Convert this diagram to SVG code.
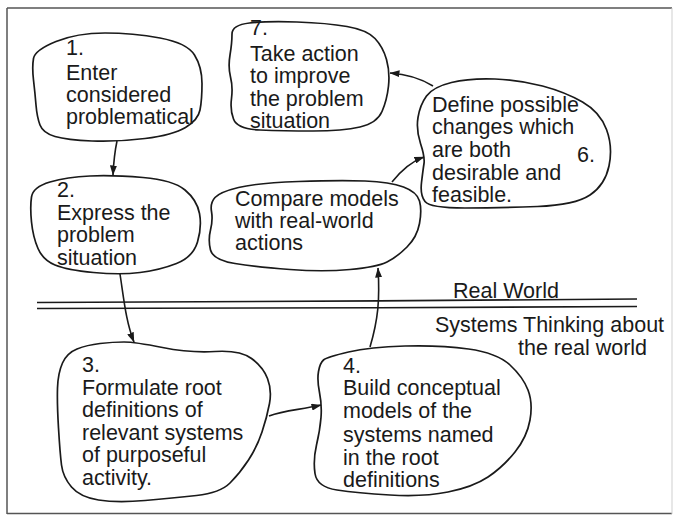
<svg xmlns="http://www.w3.org/2000/svg" width="674" height="516" viewBox="0 0 674 516">
<defs>
<style>
.blob{fill:none;stroke:#1a1a1a;stroke-width:1.7;stroke-linejoin:round}
.conn{fill:none;stroke:#1a1a1a;stroke-width:1.6}
.t{font-family:"Liberation Sans",Arial,Helvetica,sans-serif;font-size:21.5px;fill:#1a1a1a}
.frame{fill:none;stroke:#555;stroke-width:1.5}
</style>
<marker id="ah" markerWidth="10" markerHeight="7" refX="9.5" refY="3.5" orient="auto" markerUnits="userSpaceOnUse">
<path d="M0,0 L10,3.5 L0,7 Z" fill="#1a1a1a"/>
</marker>
</defs>
<rect width="674" height="516" fill="#fff"/>
<g id="frame">
<line class="frame" x1="7" y1="8" x2="672" y2="8"/>
<line class="frame" x1="7" y1="8" x2="7" y2="514"/>
<line class="frame" x1="7" y1="513.5" x2="672" y2="513.5"/>
<line x1="672" y1="8" x2="672" y2="514" stroke="#cfcfcf" stroke-width="1"/>
</g>
<g id="divider">
<path class="conn" d="M37,302.5 C200,301.5 450,301 637,299"/>
<path class="conn" d="M37,308.5 C200,308 450,308 637,306.5"/>
<text class="t" x="453" y="298">Real World</text>
<text class="t"><tspan x="435" y="332">Systems Thinking about</tspan><tspan x="518" y="355">the real world</tspan></text>
</g>
<g id="node1">
<path class="blob" d="M33.5,58.5 Q35,50 56,41.5 Q77,33 105,33 Q133,33 160,38 Q187,43 194.5,55 Q202,67 202,83.5 Q202,100 200,110 Q198,120 185.5,127.5 Q173,135 145,138.5 Q117,142 92,141 Q67,140 55,136.5 Q43,133 40,125 Q37,117 36,105 Q35,93 33.5,80 Q32,67 33.5,58.5 Z"/>
<text class="t"><tspan x="66" y="55">1.</tspan><tspan x="66" y="80">Enter</tspan><tspan x="66" y="102">considered</tspan><tspan x="66" y="124">problematical</tspan></text>
</g>
<g id="node2">
<path class="blob" d="M31.5,197 Q33,187 50,182 Q67,177 90,176 Q113,175 143,177.5 Q173,180 185,190 Q197,200 199.5,213.5 Q202,227 197.5,242 Q193,257 176.5,263.5 Q160,270 140,272.5 Q120,275 93.5,272.5 Q67,270 55,265 Q43,260 38,248.5 Q33,237 31.5,222 Q30,207 31.5,197 Z"/>
<text class="t"><tspan x="57" y="197">2.</tspan><tspan x="57" y="220">Express the</tspan><tspan x="57" y="242">problem</tspan><tspan x="57" y="265">situation</tspan></text>
</g>
<g id="node3">
<path class="blob" d="M124,342 Q135,342 162.5,347.5 Q190,353 215,351.5 Q240,350 251.5,358.5 Q263,367 267.5,378.5 Q272,390 269.5,403.5 Q267,417 262,432 Q257,447 248.5,460 Q240,473 230,483 Q220,493 196.5,495.5 Q173,498 145,500.5 Q117,503 98.5,500 Q80,497 71.5,487 Q63,477 61.5,465 Q60,453 58.5,428 Q57,403 57.5,388 Q58,373 62.5,363 Q67,353 77,349 Q87,345 100,343.5 Q113,342 124,342 Z"/>
<text class="t"><tspan x="82" y="372">3.</tspan><tspan x="82" y="395">Formulate root</tspan><tspan x="82" y="417">definitions of</tspan><tspan x="82" y="440">relevant systems</tspan><tspan x="82" y="462">of purposeful</tspan><tspan x="82" y="485">activity.</tspan></text>
</g>
<g id="node4">
<path class="blob" d="M323.5,360 Q327,357 348.5,352 Q370,347 405,346 Q440,345 468.5,349 Q497,353 510,365 Q523,377 528,390 Q533,403 530,420 Q527,437 515,452 Q503,467 488,477 Q473,487 448,492 Q423,497 390,495 Q357,493 337,490 Q317,487 315,473.5 Q313,460 316.5,445 Q320,430 321,417.5 Q322,405 319.5,392.5 Q317,380 318.5,371.5 Q320,363 323.5,360 Z"/>
<text class="t"><tspan x="343" y="373">4.</tspan><tspan x="343" y="395">Build conceptual</tspan><tspan x="343" y="418">models of the</tspan><tspan x="343" y="442">systems named</tspan><tspan x="343" y="465">in the root</tspan><tspan x="343" y="487">definitions</tspan></text>
</g>
<g id="node5">
<path class="blob" d="M215,197.5 Q220,192 238.5,187.5 Q257,183 298.5,181.5 Q340,180 365,181 Q390,182 403.5,187 Q417,192 419.5,201 Q422,210 419.5,223.5 Q417,237 407,247 Q397,257 387,262 Q377,267 350,269.5 Q323,272 290,269.5 Q257,267 235,263.5 Q213,260 210.5,250 Q208,240 210.5,230 Q213,220 211.5,211.5 Q210,203 215,197.5 Z"/>
<text class="t"><tspan x="235" y="206">Compare models</tspan><tspan x="235" y="228">with real-world</tspan><tspan x="235" y="250">actions</tspan></text>
</g>
<g id="node6">
<path class="blob" d="M426.5,96 Q433,87 451.5,82.5 Q470,78 495,79 Q520,80 542.5,86 Q565,92 582.5,102 Q600,112 606.5,129.5 Q613,147 609,166 Q605,185 590,195 Q575,205 537.5,206.5 Q500,208 465,208 Q430,208 425,201.5 Q420,195 421.5,182.5 Q423,170 424,163.5 Q425,157 420.5,143.5 Q416,130 418,117.5 Q420,105 426.5,96 Z"/>
<text class="t"><tspan x="432" y="112">Define possible</tspan><tspan x="432" y="134">changes which</tspan><tspan x="432" y="157">are both</tspan><tspan x="577" y="162">6.</tspan><tspan x="432" y="180">desirable and</tspan><tspan x="432" y="202">feasible.</tspan></text>
</g>
<g id="node7">
<path class="blob" d="M232,34 Q232,25 249.5,23 Q267,21 297,22 Q327,23 347,26.5 Q367,30 375,38.5 Q383,47 386.5,59.5 Q390,72 388.5,86 Q387,100 382,111.5 Q377,123 360,127 Q343,131 313,131 Q283,131 260,130 Q237,129 233.5,119 Q230,110 231.5,98.5 Q233,87 230.5,77 Q228,67 230,55 Q232,43 232,34 Z"/>
<text class="t"><tspan x="250" y="35">7.</tspan><tspan x="250" y="61">Take action</tspan><tspan x="250" y="83">to improve</tspan><tspan x="250" y="106">the problem</tspan><tspan x="250" y="128">situation</tspan></text>
</g>
<g id="connectors">
<path class="conn" d="M117,141 Q114,155 113,175" marker-end="url(#ah)"/>
<path class="conn" d="M120,274 C124,300 126,322 134,342" marker-end="url(#ah)"/>
<path class="conn" d="M269,416 C285,410 300,410 321,405" marker-end="url(#ah)"/>
<path class="conn" d="M370,347 C378,320 380,300 378,268" marker-end="url(#ah)"/>
<path class="conn" d="M392,182 C400,172 410,162 424,157" marker-end="url(#ah)"/>
<path class="conn" d="M433,86 C420,78 405,74 390,73" marker-end="url(#ah)"/>
</g>
</svg>
